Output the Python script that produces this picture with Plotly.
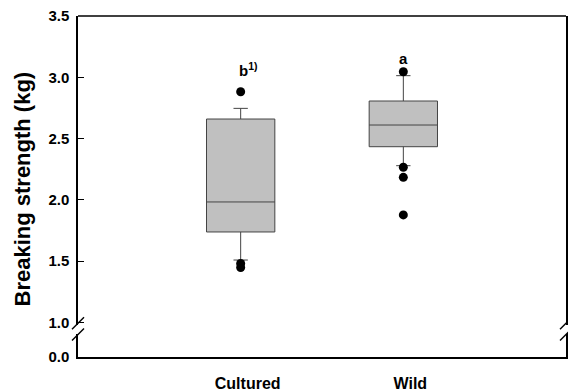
import plotly.graph_objects as go

# ---- data ----
categories = ["Cultured", "Wild"]
q1 = [1.737, 2.433]
median = [1.982, 2.610]
q3 = [2.659, 2.806]
lower_whisker = [1.508, 2.278]
upper_whisker = [2.746, 3.013]

outlier_cat = ["Cultured", "Cultured", "Cultured", "Wild", "Wild", "Wild", "Wild"]
outlier_val = [2.882, 1.480, 1.447, 3.045, 2.265, 2.183, 1.876]

letters = ["b<sup>1)</sup>", "a"]
letter_y = [3.06, 3.15]

upper_ticks = [1.0, 1.5, 2.0, 2.5, 3.0, 3.5]
lower_ticks = [0.0]
y_title = "Breaking strength (kg)"

FONT = "Liberation Sans, Arial, sans-serif"

fig = go.Figure()
fig.add_trace(go.Box(
    x=categories, q1=q1, median=median, q3=q3,
    lowerfence=lower_whisker, upperfence=upper_whisker,
    fillcolor="#c0c0c0", line=dict(color="#444444", width=1),
    whiskerwidth=0.21, boxpoints=False, showlegend=False,
    xaxis="x", yaxis="y", hoverinfo="skip",
))
fig.add_trace(go.Scatter(
    x=outlier_cat, y=outlier_val, mode="markers",
    marker=dict(color="black", size=9, line=dict(width=0)),
    showlegend=False, xaxis="x", yaxis="y", hoverinfo="skip",
))
fig.add_trace(go.Scatter(x=[None], y=[None], mode="markers", xaxis="x", yaxis="y2",
                         showlegend=False, hoverinfo="skip"))

L, R, T, B = 78, 2, 16, 34
W, H = 568, 391
pw, ph = W - L - R, H - T - B
up_dom = [0.095, 1.0]
lo_dom = [0.0, 0.066]
px_per_unit = 122.5
up_range = [3.5 - (up_dom[1] - up_dom[0]) * ph / px_per_unit, 3.5]
lo_range = [0.0, (lo_dom[1] - lo_dom[0]) * ph / px_per_unit]

axis_line = dict(showline=True, linecolor="black", linewidth=1.5, mirror=True,
                 showgrid=False, zeroline=False, ticks="inside", ticklen=6,
                 tickwidth=1, tickcolor="black",
                 tickfont=dict(family=FONT, size=15, color="black", weight="bold"),
                 ticklabelstandoff=4)

fig.update_layout(
    width=W, height=H,
    margin=dict(l=L, r=R, t=T, b=B, autoexpand=False),
    plot_bgcolor="white", paper_bgcolor="white",
    boxgap=0.4,
    xaxis=dict(type="category", categoryorder="array", categoryarray=categories,
               range=[-1, 2], anchor="y2", showline=True, linecolor="black",
               linewidth=1.5, ticks="", showgrid=False, zeroline=False,
               tickfont=dict(family=FONT, size=16, color="black", weight="bold"),
               ticklabelshift=7, ticklabelstandoff=11),
    yaxis=dict(domain=up_dom, range=up_range, anchor="x",
               tickvals=upper_ticks, tickformat=".1f", **axis_line),
    yaxis2=dict(domain=lo_dom, range=lo_range, anchor="x",
                tickvals=lower_ticks, tickformat=".1f", **axis_line),
)

# y-axis title (centred on the whole frame height, as in the reference)
fig.add_annotation(text=y_title, xref="paper", yref="paper",
                   x=(22 - L) / pw, y=(H - B - 189.5) / ph,
                   xanchor="center", yanchor="middle", textangle=-90, showarrow=False,
                   font=dict(family=FONT, size=22, color="black", weight="bold"))

# top frame line
fig.add_shape(type="line", xref="paper", yref="paper", x0=0, x1=1, y0=1, y1=1,
              line=dict(color="black", width=1.5))

# axis break marks
dx, dy = 6 / pw, 6 / ph
for xb in (0, 1):
    for yb in (up_dom[0] + 0.004, lo_dom[1]):
        fig.add_shape(type="line", xref="paper", yref="paper",
                      x0=xb - dx, x1=xb + dx, y0=yb - dy, y1=yb + dy,
                      line=dict(color="black", width=1.5))

# significance letters
for cat, txt, yy, xs in zip(categories, letters, letter_y, [8, 0]):
    fig.add_annotation(x=cat, y=yy, xref="x", yref="y", text=txt, showarrow=False,
                       xshift=xs, font=dict(family=FONT, size=15, color="black", weight="bold"))

fig.write_html("out.html", config={"displayModeBar": False},
               post_script="document.body.style.margin='0';document.body.style.padding='0';")
